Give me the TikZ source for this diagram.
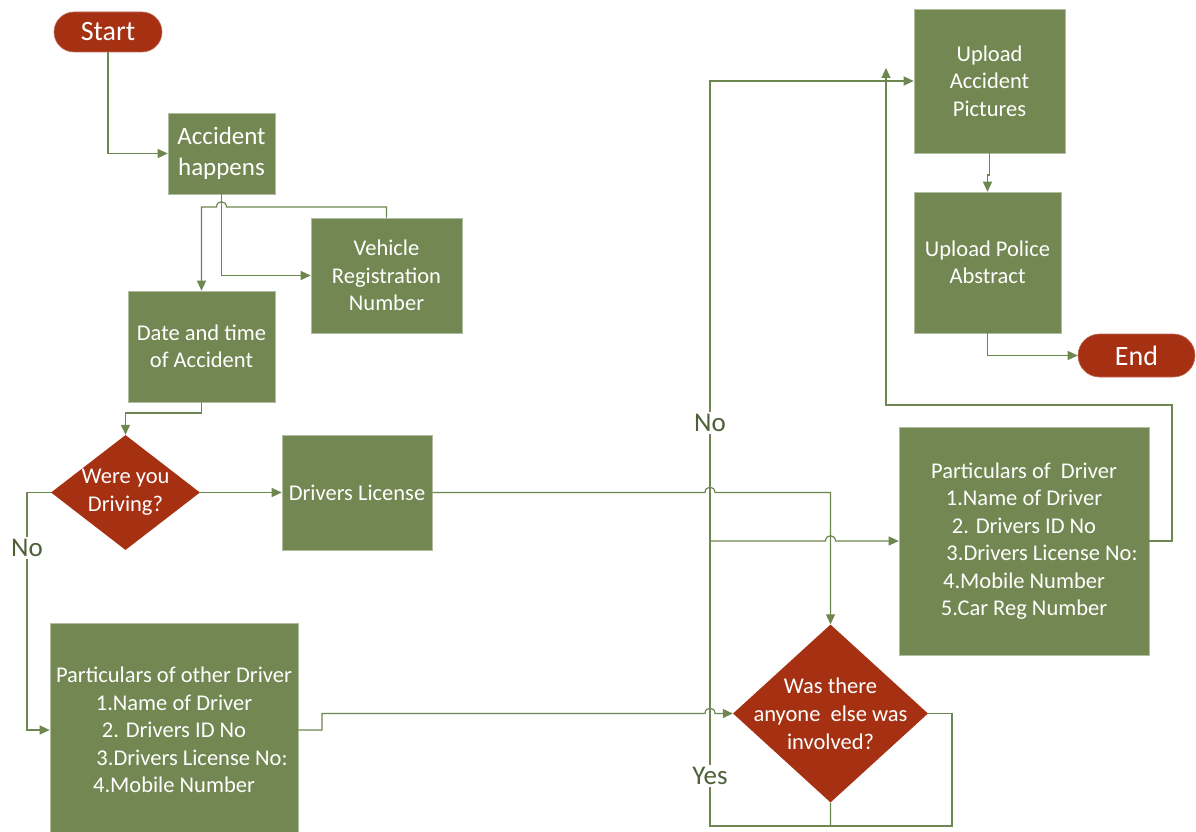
\documentclass[tikz,border=0pt]{standalone}
\usepackage{fontspec}
\setmainfont{Carlito}
\usetikzlibrary{arrows.meta,shapes.geometric,shapes.misc}
\definecolor{boxgreen}{HTML}{728751}
\definecolor{decred}{HTML}{A53012}
\definecolor{linegreen}{HTML}{6E8650}
\definecolor{labelgreen}{HTML}{4F5F38}

\begin{document}
\begin{tikzpicture}[x=1pt,y=-1pt,
  stepbox/.style={rectangle, fill=boxgreen, draw=boxgreen!55!white, line width=0.6pt,
    text=white, align=center, inner sep=0pt, font=\fontsize{22.5}{27.5}\selectfont},
  terminal/.style={rounded rectangle, fill=decred, draw=decred!70!white, line width=0.6pt,
    text=white, inner sep=0pt, font=\fontsize{28}{34}\selectfont},
  decision/.style={diamond, fill=decred, inner sep=0pt},
  qtext/.style={text=white, align=center, font=\fontsize{22.5}{28}\selectfont},
  flow/.style={draw=linegreen, line width=1.2pt, -{Triangle[length=10pt,width=9pt]}},
  branch/.style={fill=white, text=labelgreen, inner sep=2pt, font=\fontsize{27}{32}\selectfont}]

\fill[white] (0,0) rectangle (1196,832);
\useasboundingbox (0,0) rectangle (1196,832);

% ---- nodes ----
\node[terminal, minimum width=108pt, minimum height=40pt] (start) at (108,32) {Start};
\node[stepbox, font=\fontsize{25}{31}\selectfont, minimum width=107pt, minimum height=81pt] (acc) at (221.5,153.5) {Accident\\happens};
\node[stepbox, minimum width=151pt, minimum height=115pt] (veh) at (386.5,275.5) {Vehicle\\Registration\\Number};
\node[stepbox, minimum width=147pt, minimum height=111pt] (date) at (201.5,346.5) {Date and time\\of Accident};
\node[decision, minimum width=149pt, minimum height=115pt,
      label={[qtext]center:Were you\\Driving?}] (drv) at (125.5,492.5) {};
\node[stepbox, minimum width=150pt, minimum height=115pt] (lic) at (357,492.5) {Drivers License};
\node[stepbox, minimum width=248pt, minimum height=214pt] (other) at (174,730)
  {Particulars of other Driver\\1.Name of Driver\\2. Drivers ID No\\\hspace*{36pt}3.Drivers License No:\\4.Mobile Number};
\node[decision, minimum width=195pt, minimum height=178pt,
      label={[qtext]center:Was there\\anyone~ else was\\involved?}] (inv) at (830.5,713.5) {};
\node[stepbox, minimum width=250pt, minimum height=228pt] (mine) at (1024,541)
  {Particulars of~ Driver\\1.Name of Driver\\2. Drivers ID No\\\hspace*{36pt}3.Drivers License No:\\4.Mobile Number\\5.Car Reg Number};
\node[stepbox, minimum width=151pt, minimum height=144pt] (pics) at (989.5,81) {Upload\\Accident\\Pictures};
\node[stepbox, minimum width=147pt, minimum height=141pt] (police) at (987.5,262.5) {Upload Police\\Abstract};
\node[terminal, minimum width=117pt, minimum height=43pt] (end) at (1136.5,355.5) {End};
\coordinate (rejoin) at (886,68);

% ---- connectors ----
\draw[flow] (start.south) |- (acc.west);
\draw[flow] (acc.south) |- (veh.west);
\draw[flow] (veh.north) -- (386.5,207) -- (226.5,207)
  .. controls (226.5,200) and (216.5,200) .. (216.5,207) -- (201.5,207) -- (date.north);
\draw[flow] (date.south) -- (201.5,413) -| (drv.north);
\draw[flow] (drv.east) -- (lic.west);
\draw[flow] (drv.west) -- (27,492.5) |- (other.west);
\draw[flow] (lic.east) -- (705,492.5)
  .. controls (705,485.5) and (715,485.5) .. (715,492.5) -| (inv.north);
\draw[flow] (other.east) -- (322,730) |- (705,713.5)
  .. controls (705,706.5) and (715,706.5) .. (715,713.5) -- (inv.west);
\draw[flow] (inv.south) |- (710,826) -- (710,541) -- (825.5,541)
  .. controls (825.5,534) and (835.5,534) .. (835.5,541) -- (mine.west);
\draw[flow] (inv.east) -- (952,713.5) |- (710,826) -- (710,81) -- (pics.west);
\draw[flow] (mine.east) -- (1172,541) |- (886,405) -- (rejoin);
\draw[flow] (pics.south) -- (989.5,175) -| (police.north);
\draw[flow] (police.south) |- (end.west);

% ---- branch labels ----
\node[branch] at (27,548) {No};
\node[branch] at (710,423) {No};
\node[branch] at (710,776) {Yes};
\end{tikzpicture}
\end{document}
